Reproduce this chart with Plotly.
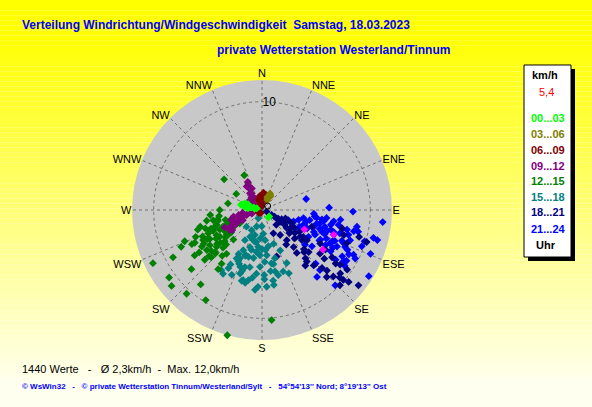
import plotly.graph_objects as go

W, H = 592, 407

directions = ["N", "NNE", "NE", "ENE", "E", "ESE", "SE", "SSE",
              "S", "SSW", "SW", "WSW", "W", "WNW", "NW", "NNW"]
dir_angles = [i * 22.5 for i in range(16)]

# wind direction (deg) / speed (km/h) per 3-hour block
lime_dir = [286, 285, 284, 287, 291, 277, 284, 288, 280, 282, 140, 132, 293, 279]
lime_spd = [1.9, 1.5, 1.0, 0.5, 1.7, 1.3, 2.0, 0.8, 1.6, 1.2, 0.9, 0.9, 1.4, 0.7]

olive_dir = [28, 29, 28, 26, 22, 32, 25]
olive_spd = [1.6, 1.4, 1.05, 1.7, 1.3, 1.5, 1.2]

maroon_dir = [6, 357, 0, 11, 340, 25, 15, 358, 350, 5, 20, 345, 200, 230]
maroon_spd = [1.1, 0.6, 0.35, 1.4, 1.0, 1.0, 1.45, 0.8, 1.3, 1.6, 1.2, 0.6, 0.3, 0.4]

purple_dir = [331, 328, 329, 327, 327, 324, 259, 252, 249, 242, 240, 238, 242, 258,
              252, 286, 257, 246, 242, 256, 320, 335, 245, 250, 236, 262, 300, 310,
              247, 251, 244, 330, 326, 333]
purple_spd = [2.6, 1.8, 1.2, 0.9, 2.6, 1.9, 0.8, 1.5, 2.2, 2.65, 3.1, 3.5, 2.0, 2.2,
              3.0, 1.15, 2.7, 2.2, 3.3, 1.3, 1.5, 2.2, 3.8, 1.0, 3.3, 1.8, 1.0, 1.4,
              2.5, 1.8, 2.9, 2.2, 1.5, 2.9]

green_dir = [333, 309, 302, 281, 270, 264.5, 258, 253, 248, 245.5, 242, 244, 230, 219.5,
             234, 230, 222, 212, 195.5, 175, 237.6, 255, 234, 227, 219, 224, 239, 258,
             247, 243, 231, 234, 217, 246.5, 236, 238.7, 216.5, 310, 285, 333, 250, 241,
             228, 232, 245, 252, 240, 226, 236, 249, 244, 233, 229, 221, 240, 255, 262, 248,
             238, 242, 246, 250, 235, 231, 226, 229, 243, 247, 252, 256, 240, 236, 233,
             244, 249, 238, 230, 227, 253, 259, 241, 234]
green_spd = [3.6, 4.5, 2.8, 3.2, 3.9, 4.8, 4.2, 6.2, 7.7, 8.2, 9.3, 11.2, 8.5, 8.9,
             10.6, 10.9, 10.4, 9.8, 12.0, 10.2, 4.6, 5.9, 6.3, 6.4, 5.2, 3.8, 2.4, 4.6,
             3.9, 6.1, 5.4, 3.7, 6.2, 5.4, 7.5, 6.5, 6.8, 1.45, 1.8, 2.8, 5.0, 5.5,
             5.8, 4.9, 4.3, 4.4, 3.3, 4.6, 5.8, 5.2, 6.9, 4.2, 7.0, 5.6, 2.9, 3.5, 4.0, 6.6,
             5.0, 5.7, 6.0, 4.7, 4.0, 6.0, 5.0, 6.5, 4.0, 4.9, 5.5, 4.2, 6.2, 7.0, 5.2,
             7.2, 3.4, 3.9, 4.5, 5.9, 3.0, 5.2, 4.8, 3.5]

teal_dir = [204, 198, 196, 196, 204, 209.5, 198, 205, 196, 204.5, 190, 182.5, 174, 177,
            170, 168, 171, 176.5, 183, 185, 191, 195, 199, 205, 211.4, 207.7, 196.7, 182,
            170, 161, 155.8, 155, 157, 166, 181, 177, 174, 223, 207, 186, 201, 192, 214,
            161, 171, 188, 200, 178, 165, 193, 210, 185,
            190, 195, 200, 185, 180, 175, 205, 210, 198, 188, 193, 203, 178, 172, 168,
            183, 208, 196]
teal_spd = [0.84, 1.6, 2.4, 2.9, 2.7, 3.2, 3.6, 4.1, 4.5, 4.9, 4.5, 4.2, 4.2, 4.8,
            5.0, 5.8, 6.6, 7.1, 7.1, 7.4, 6.6, 6.7, 6.2, 6.6, 6.9, 5.05, 5.5, 5.25,
            3.4, 3.3, 4.1, 5.4, 6.35, 6.2, 1.5, 2.2, 2.8, 2.1, 2.1, 3.4, 5.6, 5.4, 6.7,
            6.0, 7.0, 3.9, 4.4, 6.0, 4.6, 3.0, 5.8, 5.9,
            3.0, 3.8, 4.5, 4.0, 3.6, 3.7, 5.2, 6.2, 5.9, 6.3, 6.9, 5.4, 6.4, 5.7, 5.1,
            2.6, 4.6, 6.8]

navy_dir = [110, 117, 120, 123, 123, 123, 125, 112, 114, 136, 154, 144, 140.6, 139.5,
            162.5, 125, 124, 139, 137, 134, 133, 133, 134, 130.7, 129.7, 128, 129, 125,
            103, 107, 107, 105.5, 127, 122, 141, 123, 108.5, 125, 111.5, 124, 110, 130,
            118, 132, 145, 120, 135, 128,
            118, 121, 126, 128, 131, 115, 119, 127, 133, 138, 142, 136, 131, 126, 120]
navy_spd = [0.46, 1.0, 1.56, 2.0, 2.5, 3.1, 3.7, 2.5, 3.0, 1.9, 2.4, 2.85, 3.6, 4.5,
            4.5, 4.3, 5.0, 6.3, 7.0, 7.7, 8.2, 9.0, 10.0, 9.9, 10.4, 11.3, 9.3, 9.6,
            7.6, 7.9, 10.1, 9.3, 6.7, 6.9, 5.1, 4.55, 4.85, 8.8, 8.4, 7.8, 2.3, 3.3,
            1.3, 5.8, 3.9, 4.0, 5.5, 7.3,
            1.7, 2.2, 2.8, 3.3, 4.0, 2.0, 3.4, 4.6, 5.3, 6.0, 6.5, 8.6, 9.5, 8.4, 6.2]

blue_dir = [76, 88, 91, 95.7, 121.8, 104.6, 112, 135.8, 140.6, 111, 110, 105, 101, 102,
            97, 94, 114, 112, 108, 103, 105, 106, 110, 115, 120, 117, 114, 109, 106.7,
            103, 103, 102.7, 109, 112, 116, 115, 116, 120, 124, 135, 136, 117.5, 110,
            104, 99, 97, 97, 119, 129, 126, 119, 114, 101, 100, 122, 108, 118, 113, 99, 107,
            104, 108, 111, 113, 116, 118, 121, 106, 100, 98, 102, 107, 111, 114, 117,
            121, 124, 109, 105, 112]
blue_spd = [4.2, 6.2, 8.4, 11.2, 11.6, 11.0, 10.8, 9.7, 8.0, 2.6, 3.1, 3.5, 3.9, 4.5,
            4.9, 4.8, 3.8, 4.5, 5.0, 5.5, 6.0, 6.6, 5.9, 5.4, 4.95, 6.05, 6.5, 7.0, 7.5,
            8.05, 8.7, 9.1, 8.6, 8.1, 7.7, 8.7, 9.4, 8.55, 8.2, 7.0, 7.7, 9.7, 9.8,
            10.6, 6.7, 7.3, 6.0, 3.5, 5.1, 5.7, 6.7, 7.1, 7.2, 8.9, 8.9, 6.3, 7.4, 5.2, 5.6, 9.9,
            5.2, 5.6, 6.2, 7.3, 7.0, 6.0, 7.4, 8.3, 5.8, 5.1, 6.5, 6.9, 7.9, 8.4, 9.0,
            9.1, 9.2, 4.1, 4.2, 4.0]

pink_dir = [114.5, 109, 123]
pink_spd = [4.3, 7.0, 6.7]

current_dir = [55]
current_spd = [0.64]

legend_labels = ["00...03", "03...06", "06...09", "09...12",
                 "12...15", "15...18", "18...21", "21...24"]
legend_colors = ["#00FF00", "#808000", "#800000", "#800080",
                 "#008000", "#008080", "#000080", "#0000FF"]

groups = [
    (blue_dir, blue_spd, "#0000FF"),
    (navy_dir, navy_spd, "#000080"),
    (pink_dir, pink_spd, "#FF00FF"),
    (teal_dir, teal_spd, "#008080"),
    (green_dir, green_spd, "#008000"),
    (purple_dir, purple_spd, "#800080"),
    (maroon_dir, maroon_spd, "#800000"),
    (olive_dir, olive_spd, "#808000"),
    (lime_dir, lime_spd, "#00FF00"),
]

fig = go.Figure()
for d, s, c in groups:
    fig.add_trace(go.Scatterpolar(theta=d, r=s, mode="markers",
                                  marker=dict(symbol="diamond", size=6, color=c),
                                  showlegend=False))
fig.add_trace(go.Scatterpolar(theta=current_dir, r=current_spd, mode="markers",
                              marker=dict(symbol="circle-open", size=6, color="black",
                                          line=dict(width=1)),
                              showlegend=False))

# yellow background gradient
shapes = []
n = 80
for i in range(n):
    y0 = i * H / n
    y1 = (i + 1) * H / n
    b = int(min(240, max(0, (y0 - 30) * 0.68)))
    shapes.append(dict(type="rect", xref="paper", yref="paper", layer="below",
                       x0=0, x1=1, y0=1 - y1 / H, y1=1 - y0 / H,
                       fillcolor="rgb(255,255,%d)" % b, line=dict(width=0)))


def px(x):
    return x / W


def py(y):
    return 1 - y / H


# legend box with shadow
shapes.append(dict(type="rect", xref="paper", yref="paper",
                   x0=px(528), x1=px(575), y0=py(261), y1=py(69),
                   fillcolor="black", line=dict(width=0)))
shapes.append(dict(type="rect", xref="paper", yref="paper",
                   x0=px(524), x1=px(571), y0=py(257), y1=py(65),
                   fillcolor="white", line=dict(color="black", width=1)))

ann = []
ann.append(dict(text="<b>Verteilung Windrichtung/Windgeschwindigkeit  Samstag, 18.03.2023</b>",
                x=px(20), y=py(25), xanchor="left", yanchor="middle",
                font=dict(size=12, color="#0000FF")))
ann.append(dict(text="<b>private Wetterstation Westerland/Tinnum</b>",
                x=px(215), y=py(50), xanchor="left", yanchor="middle",
                font=dict(size=12, color="#0000FF")))
ann.append(dict(text="1440 Werte   -   Ø 2,3km/h  -  Max. 12,0km/h",
                x=px(20), y=py(369), xanchor="left", yanchor="middle",
                font=dict(size=11, color="black")))
ann.append(dict(text="<b>© WsWin32   -   © private Wetterstation Tinnum/Westerland/Sylt   -   54°54'13'' Nord; 8°19'13'' Ost</b>",
                x=px(20), y=py(386), xanchor="left", yanchor="middle",
                font=dict(size=8, color="#0000FF")))
ann.append(dict(text="<b>km/h</b>", x=px(545), y=py(75), xanchor="center", yanchor="middle",
                font=dict(size=11, color="black")))
ann.append(dict(text="5,4", x=px(546), y=py(92), xanchor="center", yanchor="middle",
                font=dict(size=11, color="red")))
legend_y = [118, 134, 150, 166, 181, 197, 212, 229]
for lab, col, yy in zip(legend_labels, legend_colors, legend_y):
    ann.append(dict(text="<b>%s</b>" % lab, x=px(548), y=py(yy), xanchor="center",
                    yanchor="middle", font=dict(size=11, color=col)))
ann.append(dict(text="<b>Uhr</b>", x=px(546), y=py(245), xanchor="center", yanchor="middle",
                font=dict(size=11, color="black")))
for a in ann:
    a.update(xref="paper", yref="paper", showarrow=False)

cx, cy, rad = 262, 210, 130
fig.update_layout(
    width=W, height=H,
    margin=dict(l=0, r=0, t=0, b=0),
    paper_bgcolor="#FFFFF0",
    font=dict(family="Liberation Sans, Arial, sans-serif", size=11, color="black"),
    shapes=shapes,
    annotations=ann,
    polar=dict(
        domain=dict(x=[(cx - rad) / W, (cx + rad) / W],
                    y=[(H - cy - rad) / H, (H - cy + rad) / H]),
        bgcolor="#C8C8C8",
        angularaxis=dict(direction="clockwise", rotation=90, tickmode="array",
                         tickvals=dir_angles, ticktext=directions, ticks="",
                         showline=False, gridcolor="#707070", griddash="3px,3px",
                         gridwidth=1, tickfont=dict(size=11, color="black")),
        radialaxis=dict(range=[0, 12], tickvals=[10], ticktext=["10"], angle=90,
                        tickangle=90,
                        showline=False, ticks="", gridcolor="#707070", griddash="3px,3px",
                        tickfont=dict(size=12, color="black")),
    ),
)

fig.write_html("out.html", config={"displayModeBar": False},
               post_script="document.body.style.margin='0';")
